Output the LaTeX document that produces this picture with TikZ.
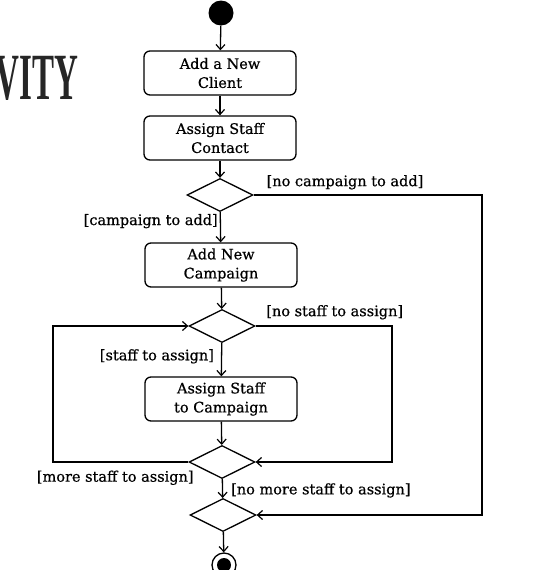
\documentclass[tikz,border=0pt]{standalone}
\usepackage{fontspec}
\setmainfont{DejaVu Serif}[FakeBold=0.6]
\newfontfamily\headfont{Liberation Serif}
\usetikzlibrary{arrows.meta, shapes.geometric}

\tikzset{
    act/.style={draw, line width=1.3pt, rounded corners=6pt, minimum width=152pt,
        minimum height=44pt, align=center, inner sep=1pt},
    dec/.style={draw, diamond, line width=1.3pt, minimum width=66pt, minimum height=33pt,
        inner sep=0pt},
    flow/.style={line width=1.3pt, -{Straight Barb[length=5pt, width=9pt, line width=1.2pt]}},
    edge/.style={line width=1.3pt},
    guard/.style={inner sep=2pt}
}

\begin{document}
\begin{tikzpicture}[x=1pt, y=-1pt, font=\fontsize{14.5}{19}\selectfont]
    \useasboundingbox (0,0) rectangle (543,570);
    \clip (0,0) rectangle (543,570);

    % cropped title
    \node[anchor=east, inner sep=0pt, xscale=0.5, text=black!85] (title) at (78,78)
        {\headfont\fontsize{66}{66}\selectfont\bfseries ACTIVITY};

    % x positions of the side lines
    \coordinate (loopL) at (53,0);
    \coordinate (loopR) at (392,0);
    \coordinate (skipR) at (482,0);

    % the nodes
    \node[circle, fill=black, minimum size=25pt, inner sep=0pt] (start) at (221,13) {};
    \node[act] (client) at (220,73) {Add a New\\Client};
    \node[act] (contact) at (220,138) {Assign Staff\\Contact};
    \node[dec] (choose) at (220,195) {};
    \node[act] (campaign) at (221,265) {Add New\\Campaign};
    \node[dec] (staff) at (222,326) {};
    \node[act] (assign) at (221,399) {Assign Staff\\to Campaign};
    \node[dec] (more) at (222,462) {};
    \node[dec] (merge) at (223,515) {};
    \node[circle, draw, line width=1.3pt, minimum size=24pt, inner sep=0pt] (stop) at (224,565) {};
    \fill (stop) circle (7pt);

    % main flow
    \draw[flow] (start) -- (client);
    \draw[flow] (client) -- (contact);
    \draw[flow] (contact) -- (choose);
    \draw[flow] (choose) -- node[guard, left, pos=0.3] {[campaign to add]} (campaign);
    \draw[flow] (campaign) -- (staff);
    \draw[flow] (staff) -- node[guard, left, pos=0.4, xshift=-5pt] {[staff to assign]} (assign);
    \draw[flow] (assign) -- (more);
    \draw[flow] (more) -- node[guard, right, pos=0.6, xshift=6pt] {[no more staff to assign]} (merge);
    \draw[flow] (merge) -- (stop);

    % side branches
    \draw[flow] (choose.east) -- node[guard, above, pos=0.4, yshift=3pt] {[no campaign to add]}
        (choose.east -| skipR) |- (merge.east);
    \draw[flow] (staff.east) -- node[guard, above, pos=0.58, yshift=4pt] {[no staff to assign]}
        (staff.east -| loopR) |- (more.east);
    \draw[flow] (more.west) -- node[guard, below, pos=0.54, yshift=-6pt] {[more staff to assign]}
        (more.west -| loopL) |- (staff.west);
\end{tikzpicture}
\end{document}
